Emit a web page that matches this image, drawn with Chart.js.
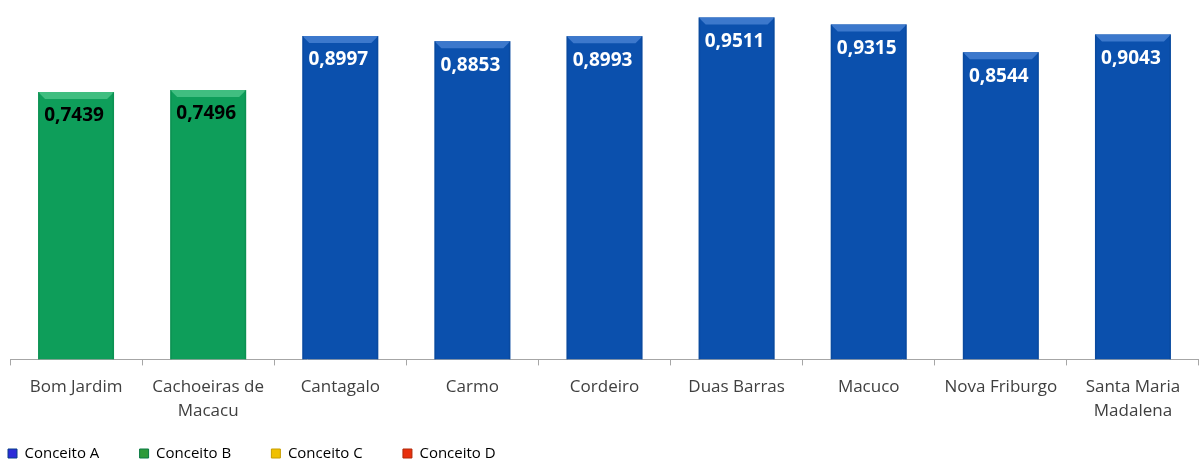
<!DOCTYPE html>
<html>
<head>
<meta charset="utf-8">
<script src="https://cdn.jsdelivr.net/npm/chart.js@4.4.1/dist/chart.umd.min.js"></script>
<style>
  html, body { margin: 0; padding: 0; background: #fff; }
  #wrap { width: 1199px; height: 461px; position: relative; }
</style>
</head>
<body>
<div id="wrap"><canvas id="chart"></canvas></div>
<script>
// ---------- Data ----------
const municipios = ['Bom Jardim', ['Cachoeiras de', 'Macacu'], 'Cantagalo', 'Carmo', 'Cordeiro',
    'Duas Barras', 'Macuco', 'Nova Friburgo', ['Santa Maria', 'Madalena']];
const indices = [0.7439, 0.7496, 0.8997, 0.8853, 0.8993, 0.9511, 0.9315, 0.8544, 0.9043];
const conceitos = ['B', 'B', 'A', 'A', 'A', 'A', 'A', 'A', 'A'];
const legendLabels = ['Conceito A', 'Conceito B', 'Conceito C', 'Conceito D'];
const legendKeys = ['A', 'B', 'C', 'D'];

// ---------- Colors ----------
const palette = {
    A: { base: '#0B50AD', light: '#3C78CC', dark: '#083E88', text: '#ffffff', legend: '#2B2BD8' },
    B: { base: '#0E9E5A', light: '#40BE80', dark: '#0A7A45', text: '#000000', legend: '#2E9A3A' },
    C: { base: '#F2C300', light: '#FFE04A', dark: '#C89E00', text: '#000000', legend: '#F0C000' },
    D: { base: '#E23A12', light: '#F26A44', dark: '#B02A0A', text: '#ffffff', legend: '#E8300E' }
};

function barFill(ctx) {
    const c = palette[conceitos[ctx.dataIndex]];
    const el = ctx.element;
    if (!el || el.width === undefined) return c.base;
    const g = ctx.chart.ctx.createLinearGradient(el.x - el.width / 2, 0, el.x + el.width / 2, 0);
    g.addColorStop(0, c.dark);
    g.addColorStop(0.08, c.base);
    g.addColorStop(0.92, c.base);
    g.addColorStop(1, c.dark);
    return g;
}

// bevel on top of each bar + value label
const bevelPlugin = {
    id: 'bevel',
    afterDatasetsDraw(chart) {
        const ctx = chart.ctx;
        const meta = chart.getDatasetMeta(0);
        meta.data.forEach((bar, i) => {
            const c = palette[conceitos[i]];
            const left = bar.x - bar.width / 2, right = bar.x + bar.width / 2;
            const top = bar.y, d = 7;
            ctx.save();
            ctx.fillStyle = c.light;
            ctx.beginPath();
            ctx.moveTo(left, top);
            ctx.lineTo(right, top);
            ctx.lineTo(right - d, top + d);
            ctx.lineTo(left + d, top + d);
            ctx.closePath();
            ctx.fill();
            ctx.fillStyle = c.dark;
            ctx.globalAlpha = 0.35;
            ctx.fillRect(left, top, 1.5, bar.base - top);
            ctx.fillRect(right - 1.5, top, 1.5, bar.base - top);
            ctx.globalAlpha = 1;

            ctx.fillStyle = c.text;
            ctx.font = 'bold 19px "Open Sans", sans-serif';
            ctx.textAlign = 'center';
            ctx.textBaseline = 'middle';
            ctx.fillText(indices[i].toFixed(4).replace('.', ','), bar.x - 2, top + 24);
            ctx.restore();
        });
    }
};

new Chart(document.getElementById('chart'), {
    type: 'bar',
    data: {
        labels: municipios,
        datasets: [{
            data: indices,
            backgroundColor: barFill,
            borderWidth: 0,
            categoryPercentage: 1,
            barPercentage: 0.575
        }]
    },
    options: {
        responsive: true,
        maintainAspectRatio: false,
        animation: false,
        layout: { padding: { left: -5, right: -3, top: 0, bottom: -10 } },
        scales: {
            x: {
                grid: { display: true, offset: true, drawOnChartArea: false, drawTicks: true, tickLength: 6, color: '#A6A6A6' },
                border: { display: true, color: '#A6A6A6', width: 1 },
                ticks: {
                    color: '#404040',
                    font: { family: '"Open Sans", sans-serif', size: 17, lineHeight: 1.4 },
                    padding: 10, maxRotation: 0, autoSkip: false
                }
            },
            y: {
                display: true,
                min: 0,
                max: 1,
                grid: { display: false },
                border: { display: false },
                ticks: { display: false },
                afterFit(scale) { scale.width = 15; }
            }
        },
        plugins: {
            tooltip: { enabled: false },
            legend: {
                position: 'bottom',
                align: 'start',
                labels: {
                    boxWidth: 9,
                    boxHeight: 9,
                    padding: 13,
                    color: '#404040',
                    font: { family: '"Open Sans", sans-serif', size: 15 },
                    generateLabels: () => legendKeys.map((k, i) => ({
                        text: legendLabels[i] + '       ',
                        fillStyle: palette[k].legend,
                        strokeStyle: palette[k].dark,
                        lineWidth: 1,
                        hidden: false,
                        index: i
                    }))
                }
            }
        }
    },
    plugins: [bevelPlugin]
});
</script>
</body>
</html>
